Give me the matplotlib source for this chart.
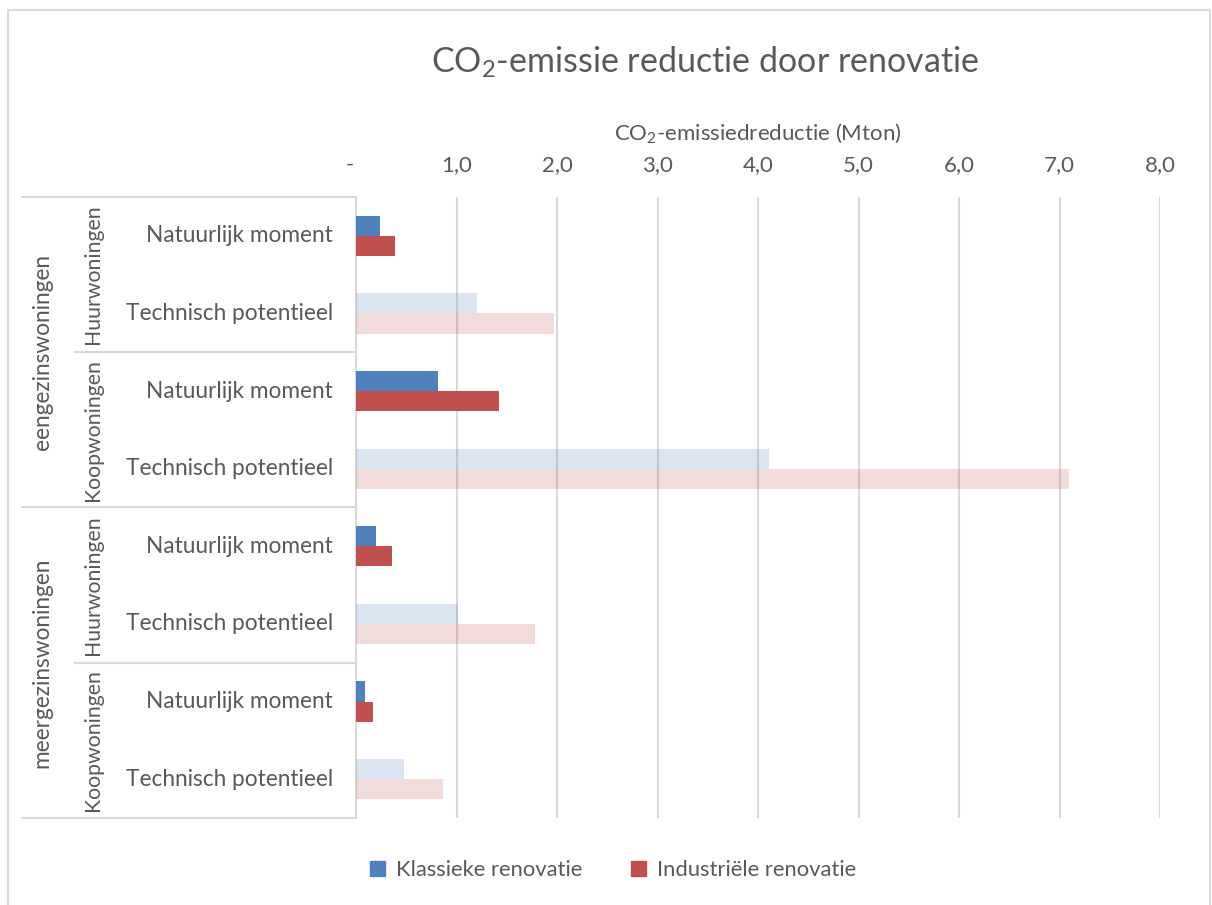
import numpy as np
import matplotlib
matplotlib.use('Agg')
import matplotlib.pyplot as plt
import matplotlib.transforms as mtransforms
from matplotlib.lines import Line2D
from matplotlib.patches import Rectangle

# categorieen (drie niveaus) en waarden in Mton
woningtype = ['eengezinswoningen', 'meergezinswoningen']
eigendom = ['Huurwoningen', 'Koopwoningen']
scenario = ['Natuurlijk moment', 'Technisch potentieel']

klassiek = [0.24, 1.20, 0.82, 4.11, 0.20, 1.01, 0.09, 0.48]
industrieel = [0.39, 1.97, 1.42, 7.09, 0.355, 1.78, 0.17, 0.87]

xticks = [0, 1, 2, 3, 4, 5, 6, 7, 8]
xticklabels = ['-', '1,0', '2,0', '3,0', '4,0', '5,0', '6,0', '7,0', '8,0']

W, H = 1212, 905
FONT = 'Lato'
TXT = '#595959'
GRID = '#D9D9D9'
BLAUW = '#4F81BD'
ROOD = '#C0504D'

plt.rcParams['font.family'] = [FONT, 'DejaVu Sans']
plt.rcParams['mathtext.fontset'] = 'custom'
plt.rcParams['mathtext.rm'] = FONT
plt.rcParams['mathtext.it'] = FONT

fig = plt.figure(figsize=(W / 100, H / 100), dpi=100)
ax = fig.add_axes([356 / W, 1 - 818 / H, (1160 - 356) / W, (818 - 197) / H])

n = len(klassiek)
y = np.arange(n)
h = 0.26
alphas = [1.0 if i % 2 == 0 else 0.2 for i in range(n)]
c_blauw = [matplotlib.colors.to_rgba(BLAUW, a) for a in alphas]
c_rood = [matplotlib.colors.to_rgba(ROOD, a) for a in alphas]

ax.barh(y - h / 2, klassiek, height=h, color=c_blauw, zorder=3)
ax.barh(y + h / 2, industrieel, height=h, color=c_rood, zorder=3)

ax.set_xlim(0, 8)
ax.set_ylim(n - 0.5, -0.5)
ax.set_yticks([])
ax.xaxis.tick_top()
ax.xaxis.set_label_position('top')
ax.set_xticks(xticks)
ax.set_xticklabels(xticklabels)
ax.tick_params(axis='x', length=0, pad=16, labelsize=16, labelcolor=TXT)
# het streepje voor nul staat iets links van de as
ax.get_xticklabels()[0].set_transform(
    ax.get_xticklabels()[0].get_transform() + mtransforms.Affine2D().translate(-6, 0))
ax.grid(axis='x', color=GRID, linewidth=1.5, zorder=0)
for s in ['top', 'right', 'bottom']:
    ax.spines[s].set_visible(False)
ax.spines['left'].set_color(GRID)
ax.spines['left'].set_linewidth(1.5)
ax.set_xlabel('CO$_2$-emissiedreductie (Mton)', fontsize=16, color=TXT, labelpad=11)

# categorie-tabel links van de as
trans = mtransforms.blended_transform_factory(fig.transFigure, ax.transData)
for yb in [-0.5, 3.5, 7.5]:
    fig.add_artist(Line2D([22 / W, 356 / W], [yb, yb], transform=trans, color=GRID, lw=1.5))
for yb in [1.5, 5.5]:
    fig.add_artist(Line2D([75 / W, 356 / W], [yb, yb], transform=trans, color=GRID, lw=1.5))

for i in range(n):
    fig.text(333 / W, i, scenario[i % 2], transform=trans, ha='right', va='center',
             fontsize=16.3, color=TXT)
for j in range(4):
    fig.text(93 / W, 2 * j + 0.5, eigendom[j % 2], transform=trans, rotation=90,
             ha='center', va='center', fontsize=15.3, color=TXT)
for k in range(2):
    fig.text(42 / W, 4 * k + 1.5, woningtype[k], transform=trans, rotation=90,
             ha='center', va='center', fontsize=16.3, color=TXT)

fig.text(705 / W, 1 - 62 / H, 'CO$_2$-emissie reductie door renovatie',
         ha='center', va='center', fontsize=24.5, color=TXT)

handles = [Rectangle((0, 0), 1, 1, color=BLAUW), Rectangle((0, 0), 1, 1, color=ROOD)]
fig.legend(handles, ['Klassieke renovatie', 'Industriële renovatie'], ncol=2,
           loc='center', bbox_to_anchor=(613 / W, 1 - 870 / H), frameon=False,
           fontsize=15.8, labelcolor=TXT, handlelength=0.7, handleheight=0.7,
           handletextpad=0.5, columnspacing=2.2)

# rand om de hele grafiek
fig.add_artist(Rectangle((8 / W, -0.02), (1210 - 8) / W, 1.02 - 10 / H,
                         transform=fig.transFigure, fill=False, edgecolor=GRID, lw=1.5))

fig.savefig('out.png', dpi=100)
